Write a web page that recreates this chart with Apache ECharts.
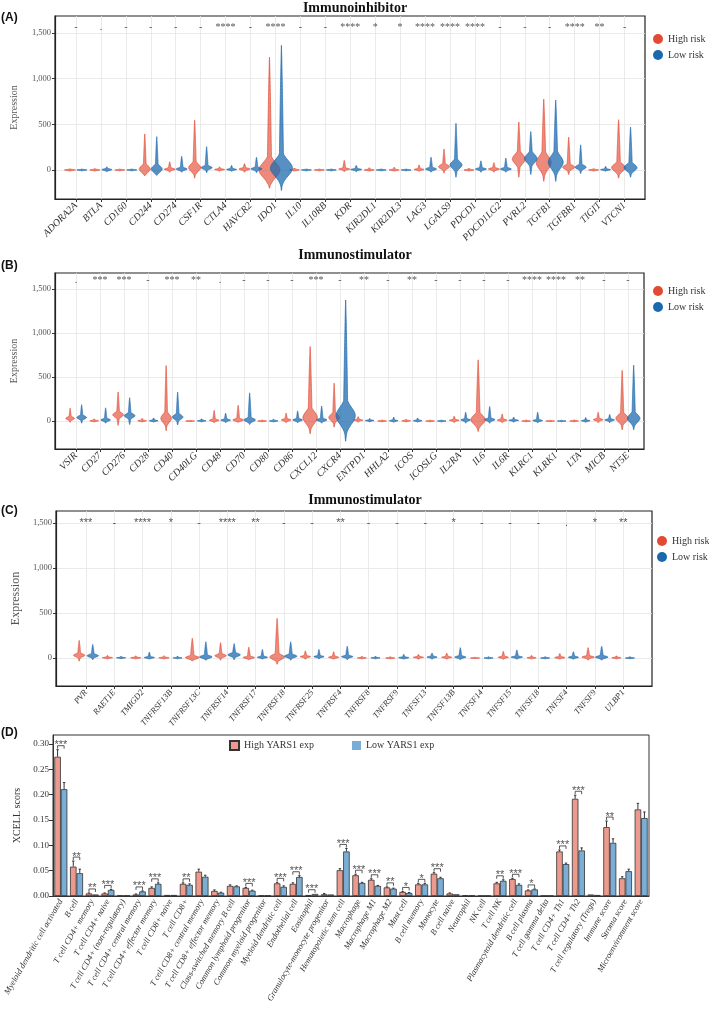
<!DOCTYPE html>
<html><head><meta charset="utf-8">
<script src="https://cdn.jsdelivr.net/npm/echarts@6/dist/echarts.min.js"></script>
<style>html,body{margin:0;padding:0;background:#fff}#c{width:709px;height:1010px}</style>
</head><body><div id="c"></div>
<script>
// ---------- Panel A : Immunoinhibitor ----------
const catsA = ['ADORA2A','BTLA','CD160','CD244','CD274','CSF1R','CTLA4','HAVCR2','IDO1','IL10','IL10RB','KDR','KIR2DL1','KIR2DL3','LAG3','LGALS9','PDCD1','PDCD1LG2','PVRL2','TGFB1','TGFBR1','TIGIT','VTCN1'];
const sigA = ['-','.','-','-','-','-','****','-','****','-','-','****','*','*','****','****','****','-','-','-','****','**','-'];
// violin summaries: [min, max, density centre, density spread, peak half-density]
const highA = [[-12,12,0,5,0.22],[-12,15,0,5,0.2],[-10,10,0,4,0.2],[-65,395,10,35,0.22],[-25,90,8,10,0.22],[-90,545,25,40,0.24],[-15,35,5,6,0.2],[-25,70,10,10,0.22],[-200,1235,0,80,0.42],[-12,22,0,5,0.2],[-10,10,0,4,0.2],[-20,105,10,8,0.22],[-12,25,0,5,0.2],[-12,30,0,5,0.2],[-15,55,5,7,0.2],[-35,230,35,22,0.22],[-12,20,0,5,0.2],[-25,80,10,10,0.22],[-80,525,120,50,0.26],[-125,775,80,70,0.3],[-50,360,30,22,0.24],[-12,15,0,5,0.2],[-90,550,25,38,0.28]];
const lowA = [[-10,10,0,4,0.2],[-20,35,3,8,0.2],[-10,10,0,4,0.2],[-60,365,10,33,0.22],[-25,150,10,12,0.22],[-30,255,25,16,0.22],[-15,50,5,7,0.2],[-30,140,12,12,0.22],[-225,1365,20,85,0.44],[-10,10,0,4,0.2],[-10,10,0,4,0.2],[-20,50,5,7,0.22],[-10,10,0,4,0.2],[-10,10,0,4,0.2],[-25,140,10,12,0.22],[-80,510,55,38,0.24],[-25,100,10,10,0.22],[-25,130,10,11,0.22],[-50,420,125,45,0.25],[-125,765,85,70,0.3],[-40,275,30,20,0.22],[-15,40,3,6,0.2],[-80,470,25,35,0.26]];

// ---------- Panel B : Immunostimulator ----------
const catsB = ['VSIR','CD27','CD276','CD28','CD40','CD40LG','CD48','CD70','CD80','CD86','CXCL12','CXCR4','ENTPD1','HHLA2','ICOS','ICOSLG','IL2RA','IL6','IL6R','KLRC1','KLRK1','LTA','MICB','NT5E'];
const sigB = ['.','***','***','-','***','**','.','-','-','-','***','-','**','-','**','-','-','-','-','****','****','**','-','-'];
const highB = [[-15,145,30,15,0.18],[-12,25,2,5,0.18],[-50,330,70,25,0.22],[-12,30,2,5,0.18],[-110,630,30,45,0.22],[-8,8,0,3,0.18],[-20,120,8,9,0.2],[-15,180,12,12,0.22],[-10,12,0,4,0.18],[-20,90,12,10,0.2],[-145,845,40,65,0.3],[-70,430,40,35,0.22],[-15,50,10,6,0.2],[-10,12,0,4,0.18],[-12,20,2,5,0.18],[-10,10,0,4,0.18],[-18,55,8,7,0.2],[-120,695,15,50,0.3],[-20,80,10,9,0.2],[-10,12,0,4,0.18],[-8,8,0,3,0.18],[-10,15,0,4,0.18],[-20,100,15,10,0.2],[-100,575,30,40,0.26]];
const lowB = [[-25,185,40,18,0.2],[-25,150,12,12,0.2],[-40,265,60,22,0.22],[-12,35,3,6,0.18],[-45,330,45,25,0.22],[-10,25,2,5,0.18],[-20,90,10,9,0.2],[-40,320,12,18,0.24],[-10,20,1,5,0.18],[-20,115,12,11,0.2],[-25,170,12,12,0.22],[-230,1375,60,95,0.4],[-12,30,5,5,0.18],[-15,45,3,6,0.18],[-12,35,3,6,0.18],[-10,10,0,4,0.18],[-25,100,12,10,0.2],[-25,165,15,12,0.22],[-15,45,8,6,0.2],[-20,100,5,8,0.2],[-8,8,0,3,0.18],[-15,40,3,6,0.18],[-20,75,12,9,0.2],[-100,635,30,45,0.26]];

// ---------- Panel C : Immunostimulator ----------
const catsC = ['PVR','RAET1E','TMIGD2','TNFRSF13B','TNFRSF13C','TNFRSF14','TNFRSF17','TNFRSF18','TNFRSF25','TNFRSF4','TNFRSF8','TNFRSF9','TNFSF13','TNFSF13B','TNFSF14','TNFSF15','TNFSF18','TNFSF4','TNFSF9','ULBP1'];
const sigC = ['***','-','****','*','-','****','**','-','-','**','-','-','-','*','-','-','-','.','*','**'];
const highC = [[-35,195,30,16,0.2],[-12,30,3,5,0.18],[-10,25,2,5,0.18],[-10,25,2,5,0.18],[-35,220,5,15,0.24],[-25,170,25,15,0.2],[-20,120,5,10,0.2],[-70,440,10,25,0.26],[-15,80,15,8,0.18],[-15,70,8,8,0.18],[-10,20,1,4,0.16],[-8,15,0,4,0.16],[-15,40,8,6,0.18],[-15,55,8,7,0.18],[-8,10,0,3,0.16],[-15,75,8,8,0.18],[-10,30,2,5,0.16],[-12,50,5,7,0.18],[-25,115,10,10,0.22],[-10,25,2,5,0.16]];
const lowC = [[-20,150,25,14,0.2],[-10,20,2,4,0.16],[-12,65,5,7,0.18],[-10,20,1,4,0.16],[-25,180,12,14,0.22],[-20,160,35,16,0.22],[-12,95,8,8,0.18],[-25,180,20,15,0.22],[-12,95,15,8,0.18],[-20,130,15,10,0.2],[-10,20,1,4,0.16],[-12,40,3,6,0.18],[-15,55,10,7,0.18],[-20,115,10,10,0.2],[-8,15,0,4,0.16],[-15,90,10,8,0.2],[-8,15,0,4,0.16],[-15,70,8,8,0.18],[-25,130,10,12,0.22],[-8,15,0,4,0.16]];

const exprTicks = [0, 500, 1000, 1500];

// ---------- Panel D : xCell scores ----------
const catsD = ['Myeloid dendritic cell activated','B cell','T cell CD4+ memory','T cell CD4+ naive','T cell CD4+ (non-regulatory)','T cell CD4+ central memory','T cell CD4+ effector memory','T cell CD8+ naive','T cell CD8+','T cell CD8+ central memory','T cell CD8+ effector memory','Class-switched memory B cell','Common lymphoid progenitor','Common myeloid progenitor','Myeloid dendritic cell','Endothelial cell','Eosinophil','Granulocyte-monocyte progenitor','Hematopoietic stem cell','Macrophage','Macrophage M1','Macrophage M2','Mast cell','B cell memory','Monocyte','B cell naive','Neutrophil','NK cell','T cell NK','Plasmacytoid dendritic cell','B cell plasma','T cell gamma delta','T cell CD4+ Th1','T cell CD4+ Th2','T cell regulatory (Tregs)','Immune score','Stroma score','Microenvironment score'];
const highD = [0.275,0.058,0.005,0.005,0.001,0.003,0.016,0.002,0.024,0.048,0.010,0.020,0.016,0.001,0.025,0.024,0.002,0.0035,0.051,0.041,0.032,0.017,0.008,0.023,0.044,0.005,0.0015,0.0005,0.025,0.0335,0.011,0.0005,0.088,0.192,0.003,0.136,0.035,0.171];
const lowD = [0.211,0.045,0.003,0.012,0.001,0.009,0.024,0.002,0.022,0.038,0.0065,0.019,0.0105,0.001,0.018,0.0375,0.004,0.003,0.088,0.0257,0.020,0.0145,0.006,0.023,0.035,0.0035,0.001,0.0005,0.030,0.022,0.013,0.0005,0.063,0.090,0.002,0.105,0.049,0.154];
const errHighD = [0.289,0.069,0.006,0.006,0.001,0.004,0.018,0.0025,0.026,0.053,0.012,0.022,0.017,0.001,0.027,0.026,0.0025,0.005,0.054,0.043,0.034,0.018,0.009,0.025,0.046,0.006,0.002,0.0005,0.027,0.035,0.012,0.0005,0.091,0.199,0.0035,0.148,0.038,0.183];
const errLowD = [0.224,0.053,0.0035,0.013,0.001,0.010,0.026,0.0025,0.024,0.041,0.0075,0.020,0.0115,0.001,0.020,0.040,0.0045,0.0035,0.094,0.027,0.021,0.0155,0.007,0.025,0.037,0.004,0.0012,0.0005,0.032,0.024,0.014,0.0005,0.065,0.095,0.0025,0.113,0.053,0.166];
const sigD = ['***','**','**','***','','***','***','','**','','','','***','','***','***','***','','***','***','***','**','*','*','***','','','','**','***','*','','***','***','','**','',''];
const scoreTicks = [0, 0.05, 0.10, 0.15, 0.20, 0.25, 0.30];

// ---------- styling ----------
const SERIF = 'Liberation Serif';
const RED = '#E34A33', RED_F = 'rgba(229,83,60,0.68)';
const BLUE = '#1B68AD', BLUE_F = 'rgba(31,108,176,0.75)';
const BAR_R = '#EC9A8E', BAR_B = '#7AAED5';
const GAP = 0.17;

function violinRender(offset, stroke, fill) {
  return function (params, api) {
    const xi = api.value(0) + offset;
    const lo = api.value(1), hi = api.value(2), c = api.value(3), s = api.value(4), w = api.value(5);
    const unit = api.size([1, 0])[0];
    const peak = w * unit;
    const tailW = Math.min(2.2, peak * 0.28);
    const N = 100, L = [], R = [];
    for (let k = 0; k <= N; k++) {
      const y = lo + (hi - lo) * k / N;
      const g = Math.exp(-0.5 * Math.pow((y - c) / s, 2));
      const f = y >= c ? (hi - y) / Math.max(hi - c, 1e-6) : (y - lo) / Math.max(c - lo, 1e-6);
      const ff = Math.max(0, Math.min(1, f));
      const taper = Math.sqrt(Math.min(1, ff / 0.3));
      const t = tailW * Math.pow(ff, 0.8);
      const hw = Math.max(peak * g * taper, t);
      const p = api.coord([xi, y]);
      L.push([p[0] - hw, p[1]]); R.push([p[0] + hw, p[1]]);
    }
    return { type: 'polygon', shape: { points: L.concat(R.reverse()) }, style: { fill: fill, stroke: stroke, lineWidth: 0.7 } };
  };
}
function violinSeries(name, data, idx, offset, stroke, fill) {
  return { type: 'custom', name: name, xAxisIndex: idx, yAxisIndex: idx, itemStyle: { color: stroke },
    data: data.map((d, i) => [i].concat(d)), encode: { x: 0, y: [1, 2] },
    renderItem: violinRender(offset, stroke, fill), silent: true };
}
function sigSeries(labels, idx, yVal, fontSize, family) {
  return { type: 'custom', xAxisIndex: idx, yAxisIndex: idx, silent: true,
    data: labels.map((s, i) => [i, yVal]), encode: { x: 0, y: 1 },
    renderItem: function (params, api) {
      const p = api.coord([api.value(0), api.value(1)]);
      return { type: 'text', x: p[0], y: p[1], style: { text: labels[params.dataIndex], align: 'center', verticalAlign: 'bottom', fontSize: fontSize, fontFamily: family, fill: '#555' } };
    } };
}
function violinGrid(top, height, left, width) {
  return { left: left, top: top, width: width, height: height, show: true, borderColor: '#222', borderWidth: 1.2, backgroundColor: '#fff' };
}
function violinX(idx, cats, min, max, fontSize, rotate) {
  const vals = cats.map((c, i) => i);
  return { type: 'value', gridIndex: idx, min: min, max: max,
    axisLine: { onZero: false, lineStyle: { color: '#222', width: 1.2 } },
    axisTick: { customValues: vals, length: 3, lineStyle: { color: '#333' } },
    axisLabel: { customValues: vals, formatter: v => cats[Math.round(v)], rotate: rotate, fontFamily: SERIF, fontStyle: 'italic', fontSize: fontSize, color: '#333', margin: 5 },
    splitLine: { show: true, lineStyle: { color: '#e4e4e4', width: 0.8 } } };
}
function violinY(idx, min, max, nameSize, gap) {
  return { type: 'value', gridIndex: idx, min: min, max: max, name: 'Expression', nameLocation: 'middle', nameGap: gap,
    nameTextStyle: { fontFamily: SERIF, fontSize: nameSize, color: '#555' },
    axisLine: { show: true, onZero: false, lineStyle: { color: '#222', width: 1.2 } },
    axisTick: { show: true, customValues: exprTicks, length: 3, lineStyle: { color: '#333' } },
    axisLabel: { customValues: exprTicks, formatter: v => v.toLocaleString('en-US'), fontFamily: SERIF, fontSize: 8.5, color: '#555', margin: 4 },
    splitLine: { show: true, lineStyle: { color: '#e4e4e4', width: 0.8 } } };
}
function legendV(top, left, gap, size) {
  return { orient: 'vertical', left: left, top: top, itemWidth: 10, itemHeight: 10, itemGap: gap, icon: 'circle',
    data: ['High risk', 'Low risk'], selectedMode: false, padding: 0,
    textStyle: { fontFamily: SERIF, fontSize: size, color: '#333' } };
}

const OFF = 0.24;
const option = {
  animation: false,
  backgroundColor: '#fff',
  graphic: [
    { type: 'text', x: 355, y: 8, style: { text: 'Immunoinhibitor', align: 'center', verticalAlign: 'middle', fontFamily: SERIF, fontWeight: 'bold', fontSize: 14, fill: '#111' } },
    { type: 'text', x: 355, y: 255, style: { text: 'Immunostimulator', align: 'center', verticalAlign: 'middle', fontFamily: SERIF, fontWeight: 'bold', fontSize: 14, fill: '#111' } },
    { type: 'text', x: 365, y: 500, style: { text: 'Immunostimulator', align: 'center', verticalAlign: 'middle', fontFamily: SERIF, fontWeight: 'bold', fontSize: 14, fill: '#111' } },
    { type: 'text', x: 1, y: 18, style: { text: '(A)', verticalAlign: 'middle', fontFamily: 'Liberation Sans', fontWeight: 'bold', fontSize: 12, fill: '#111' } },
    { type: 'text', x: 1, y: 266, style: { text: '(B)', verticalAlign: 'middle', fontFamily: 'Liberation Sans', fontWeight: 'bold', fontSize: 12, fill: '#111' } },
    { type: 'text', x: 1, y: 511, style: { text: '(C)', verticalAlign: 'middle', fontFamily: 'Liberation Sans', fontWeight: 'bold', fontSize: 12, fill: '#111' } },
    { type: 'text', x: 1, y: 733, style: { text: '(D)', verticalAlign: 'middle', fontFamily: 'Liberation Sans', fontWeight: 'bold', fontSize: 12, fill: '#111' } }
  ],
  legend: [
    legendV(34, 653, 6, 10),
    legendV(286, 653, 6, 10),
    legendV(536, 657, 6, 10),
    { orient: 'horizontal', left: 229, top: 740, padding: 0, itemWidth: 9, itemHeight: 9, itemGap: 38, selectedMode: false,
      data: [{ name: 'High YARS1 exp', icon: 'rect' }, { name: 'Low YARS1 exp', icon: 'rect', itemStyle: { borderWidth: 0 } }],
      textStyle: { fontFamily: SERIF, fontSize: 10, color: '#333' } }
  ],
  grid: [
    violinGrid(16, 183, 55, 590),
    violinGrid(273, 176, 55, 589),
    violinGrid(511, 175, 56, 596),
    { left: 53, top: 735, width: 596, height: 161, show: true, borderColor: '#333', borderWidth: 1 }
  ],
  xAxis: [
    violinX(0, catsA, -0.84, 22.82, 10, 45),
    violinX(1, catsB, -0.87, 23.67, 10, 45),
    violinX(2, catsC, -1.06, 20.02, 8.5, 50),
    { type: 'category', gridIndex: 3, data: catsD,
      axisLine: { onZero: false, lineStyle: { color: '#333' } },
      axisTick: { alignWithLabel: true, interval: 0, length: 3, lineStyle: { color: '#333' } },
      axisLabel: { interval: 0, rotate: 60, fontFamily: SERIF, fontStyle: 'italic', fontSize: 8.5, color: '#333', margin: 4 } }
  ],
  yAxis: [
    violinY(0, -318, 1686, 10, 36),
    violinY(1, -318, 1682, 10, 36),
    violinY(2, -311, 1633, 12, 33),
    { type: 'value', gridIndex: 3, min: 0, max: 0.318, name: 'XCELL scors', nameLocation: 'middle', nameGap: 30,
      nameTextStyle: { fontFamily: SERIF, fontSize: 10, color: '#333' },
      axisLine: { show: true, onZero: false, lineStyle: { color: '#333' } },
      axisTick: { show: true, customValues: scoreTicks, length: 4, lineStyle: { color: '#333' } },
      axisLabel: { customValues: scoreTicks, formatter: v => v.toFixed(2), fontFamily: SERIF, fontSize: 9, color: '#333', margin: 4 },
      splitLine: { show: false } }
  ],
  series: [
    violinSeries('High risk', highA, 0, -OFF, RED, RED_F),
    violinSeries('Low risk', lowA, 0, OFF, BLUE, BLUE_F),
    sigSeries(sigA, 0, 1505, 10, SERIF),
    violinSeries('High risk', highB, 1, -OFF, RED, RED_F),
    violinSeries('Low risk', lowB, 1, OFF, BLUE, BLUE_F),
    sigSeries(sigB, 1, 1540, 10, SERIF),
    violinSeries('High risk', highC, 2, -OFF, RED, RED_F),
    violinSeries('Low risk', lowC, 2, OFF, BLUE, BLUE_F),
    sigSeries(sigC, 2, 1440, 11, 'Liberation Sans'),
    { type: 'bar', name: 'High YARS1 exp', xAxisIndex: 3, yAxisIndex: 3, data: highD, barGap: '0%', barCategoryGap: (GAP * 100) + '%',
      itemStyle: { color: BAR_R, borderColor: '#333', borderWidth: 0.8 }, silent: true },
    { type: 'bar', name: 'Low YARS1 exp', xAxisIndex: 3, yAxisIndex: 3, data: lowD,
      itemStyle: { color: BAR_B, borderColor: '#333', borderWidth: 0.8 }, silent: true },
    { type: 'custom', xAxisIndex: 3, yAxisIndex: 3, silent: true, z: 5,
      data: highD.map((v, i) => [i, v, errHighD[i], lowD[i], errLowD[i]]), encode: { x: 0, y: [1, 2, 3, 4] },
      renderItem: function (params, api) {
        const i = api.value(0);
        const band = api.size([1, 0])[0];
        const bw = band * (1 - GAP) / 2;
        const base = api.coord([i, 0]);
        const pairs = [[base[0] - bw / 2, api.value(1), api.value(2)], [base[0] + bw / 2, api.value(3), api.value(4)]];
        const children = [];
        pairs.forEach(function (pr) {
          const y1 = api.coord([i, pr[1]])[1], y2 = api.coord([i, pr[2]])[1];
          if (y1 - y2 > 0.4) {
            children.push({ type: 'line', shape: { x1: pr[0], y1: y1, x2: pr[0], y2: y2 }, style: { stroke: '#333', lineWidth: 1 } });
            children.push({ type: 'line', shape: { x1: pr[0] - 1.2, y1: y2, x2: pr[0] + 1.2, y2: y2 }, style: { stroke: '#333', lineWidth: 1 } });
          }
        });
        const lab = sigD[params.dataIndex];
        if (lab) {
          const top = Math.min(api.coord([i, api.value(2)])[1], api.coord([i, api.value(4)])[1]);
          const by = top - 4;
          children.push({ type: 'polyline', shape: { points: [[pairs[0][0], by + 3], [pairs[0][0], by], [pairs[1][0], by], [pairs[1][0], by + 3]] }, style: { stroke: '#444', lineWidth: 0.9, fill: null } });
          children.push({ type: 'text', x: base[0], y: by + 5, style: { text: lab, align: 'center', verticalAlign: 'bottom', fontFamily: 'Liberation Sans', fontSize: 11, fill: '#555' } });
        }
        return { type: 'group', children: children };
      } }
  ]
};
const chart = echarts.init(document.getElementById('c'), null, { renderer: 'canvas' });
chart.setOption(option);
</script></body></html>
